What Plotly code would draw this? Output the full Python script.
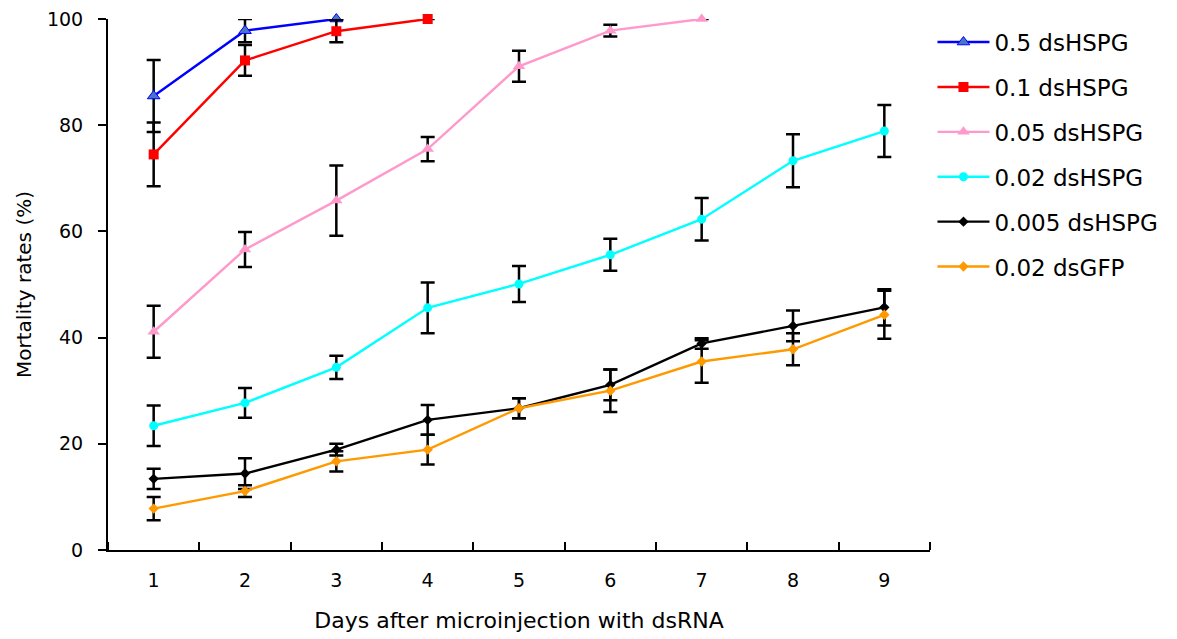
import plotly.graph_objects as go

days = [1, 2, 3, 4, 5, 6, 7, 8, 9]
x_ticklabels = ["1", "2", "3", "4", "5", "6", "7", "8", "9"]
y_ticks = [0, 20, 40, 60, 80, 100]

names = ["0.5 dsHSPG", "0.1 dsHSPG", "0.05 dsHSPG", "0.02 dsHSPG", "0.005 dsHSPG", "0.02 dsGFP"]

hspg_05 = [85.5, 97.8, 100.0]
hspg_05_err = [6.8, 2.2, None]

hspg_01 = [74.5, 92.2, 97.7, 100.0]
hspg_01_err = [6.0, 2.9, 2.1, None]

hspg_005 = [41.1, 56.6, 65.8, 75.5, 91.1, 97.8, 100.0]
hspg_005_err = [4.9, 3.3, 6.6, 2.3, 2.9, 1.1, None]

hspg_002 = [23.4, 27.7, 34.4, 45.6, 50.1, 55.6, 62.3, 73.3, 78.9]
hspg_002_err = [3.8, 2.8, 2.2, 4.8, 3.4, 3.0, 4.0, 5.0, 4.9]

hspg_0005 = [13.4, 14.4, 18.9, 24.5, 26.7, 31.1, 38.9, 42.2, 45.7]
hspg_0005_err = [1.9, 2.9, 1.1, 2.8, 1.9, 2.9, 1.0, 2.9, 3.4]

gfp_002 = [7.8, 11.1, 16.7, 18.9, 26.7, 30.0, 35.5, 37.8, 44.3]
gfp_002_err = [2.2, 1.1, 1.9, 2.8, 1.9, 4.0, 4.0, 3.0, 4.5]

series = [
    (names[0], hspg_05, hspg_05_err, "#0000FF", "triangle-up", 11, "#4A74C9"),
    (names[1], hspg_01, hspg_01_err, "#FF0000", "square", 10, "#FF0000"),
    (names[2], hspg_005, hspg_005_err, "#FF99CC", "triangle-up", 11, "#FF99CC"),
    (names[3], hspg_002, hspg_002_err, "#00FFFF", "circle", 9, "#00FFFF"),
    (names[4], hspg_0005, hspg_0005_err, "#000000", "diamond", 8, "#000000"),
    (names[5], gfp_002, gfp_002_err, "#FF9900", "diamond", 8, "#FF9900"),
]

fig = go.Figure()
for i, (name, vals, errs, lc, sym, size, mc) in enumerate(series):
    fig.add_trace(go.Scatter(
        x=days[:len(vals)], y=vals, name=name, mode="lines+markers",
        line=dict(color=lc, width=2.4),
        marker=dict(symbol=sym, size=size, color=mc,
                    line=dict(color=lc, width=1 if i == 0 else 0)),
        error_y=dict(type="data", array=errs, visible=True, color="black",
                     thickness=2.5, width=7),
        cliponaxis=False, legendgroup=f"g{i}",
    ))

font_family = "DejaVu Sans"
fig.update_layout(
    width=1177, height=639,
    margin=dict(l=108, r=247, t=19, b=89),
    paper_bgcolor="white", plot_bgcolor="white",
    font=dict(family=font_family, color="black", size=19),
    showlegend=True,
    legend=dict(x=1.003, xref="paper", y=0.997, xanchor="left", yanchor="top",
                font=dict(size=23, family=font_family), tracegroupgap=12,
                itemwidth=52, bgcolor="rgba(0,0,0,0)"),
    xaxis=dict(range=[0.5, 9.5], tickmode="array", tickvals=days, ticktext=x_ticklabels,
               ticks="", showgrid=False, zeroline=False, showline=True,
               linecolor="black", linewidth=2, ticklabelstandoff=12,
               tickfont=dict(size=19), automargin=False,
               minor=dict(tick0=0.5, dtick=1, ticks="inside", ticklen=8,
                          tickwidth=2, tickcolor="black", showgrid=False),
               title=dict(text="Days after microinjection with dsRNA",
                          font=dict(size=22), standoff=23)),
    yaxis=dict(range=[0, 100], tickmode="array", tickvals=y_ticks,
               ticks="outside", ticklen=8, tickwidth=2, tickcolor="black",
               showgrid=False, zeroline=False, showline=True,
               linecolor="black", linewidth=2, ticklabelstandoff=11,
               tickfont=dict(size=19), automargin=False,
               title=dict(text="Mortality rates (%)", font=dict(size=20), standoff=10)),
)

fig.write_html("out.html", config={"displayModeBar": False},
               post_script="document.body.style.margin='0';document.body.style.overflow='hidden';")
